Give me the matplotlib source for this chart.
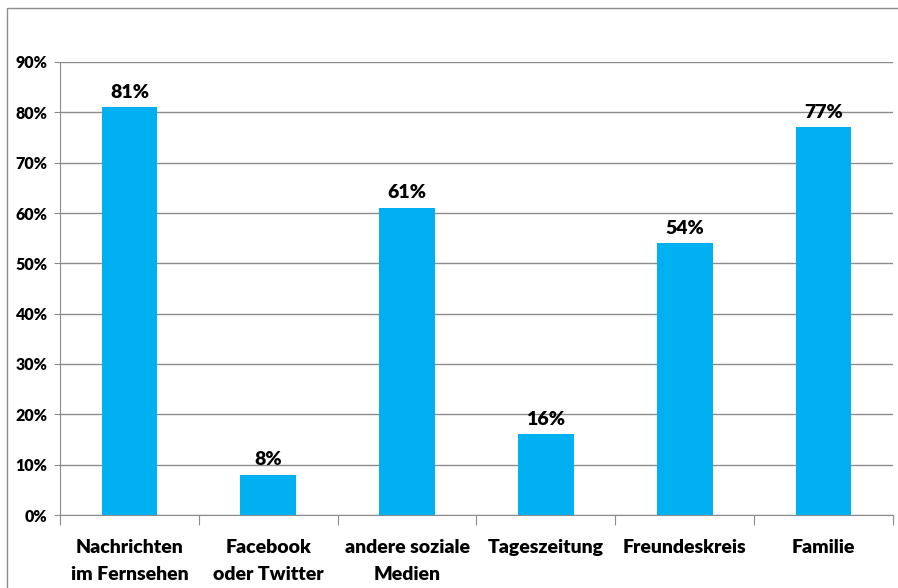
import matplotlib.pyplot as plt
from matplotlib.patches import Rectangle
from matplotlib.ticker import MultipleLocator, FuncFormatter

categories = ['Nachrichten\nim Fernsehen', 'Facebook\noder Twitter', 'andere soziale\nMedien',
              'Tageszeitung', 'Freundeskreis', 'Familie']
values = [81, 8, 61, 16, 54, 77]

plt.rcParams['font.family'] = ['Lato', 'DejaVu Sans']
plt.rcParams['font.weight'] = 'heavy'

fig = plt.figure(figsize=(8.98, 5.88), dpi=100)
ax = fig.add_axes([60 / 898, 73 / 588, 833 / 898, 453 / 588])

x = range(len(values))
bars = ax.bar(x, values, width=0.4, color='#00B0F0', zorder=3)

for xi, v in zip(x, values):
    ax.text(xi, v + 1.3, f'{v}%', ha='center', va='bottom', fontsize=14, fontweight='heavy')

ax.set_xlim(-0.5, len(values) - 0.5)
ax.set_ylim(0, 90)
ax.yaxis.set_major_locator(MultipleLocator(10))
ax.yaxis.set_major_formatter(FuncFormatter(lambda v, p: f'{int(v)}%'))
ax.grid(axis='y', color='#8c8c8c', linewidth=1, zorder=0)

ax.set_xticks([i + 0.5 for i in range(-1, len(values))])
ax.set_xticklabels([])
ax.set_xticks(list(x), minor=True)
ax.set_xticklabels(categories, minor=True, fontsize=14, fontweight='heavy', linespacing=1.75)
ax.tick_params(axis='x', which='minor', length=0, pad=17)
ax.tick_params(axis='x', which='major', length=7, color='#8c8c8c', direction='out')
ax.tick_params(axis='y', length=4, color='#8c8c8c', labelsize=11.5, pad=5)

for side in ['top', 'right']:
    ax.spines[side].set_visible(False)
for side in ['left', 'bottom']:
    ax.spines[side].set_color('#8c8c8c')

fig.add_artist(Rectangle((7 / 898, -0.1), 1.2, (580 / 588) + 0.1, transform=fig.transFigure,
                         fill=False, edgecolor='#8c8c8c', linewidth=1))

fig.savefig('out.png', dpi=100)
